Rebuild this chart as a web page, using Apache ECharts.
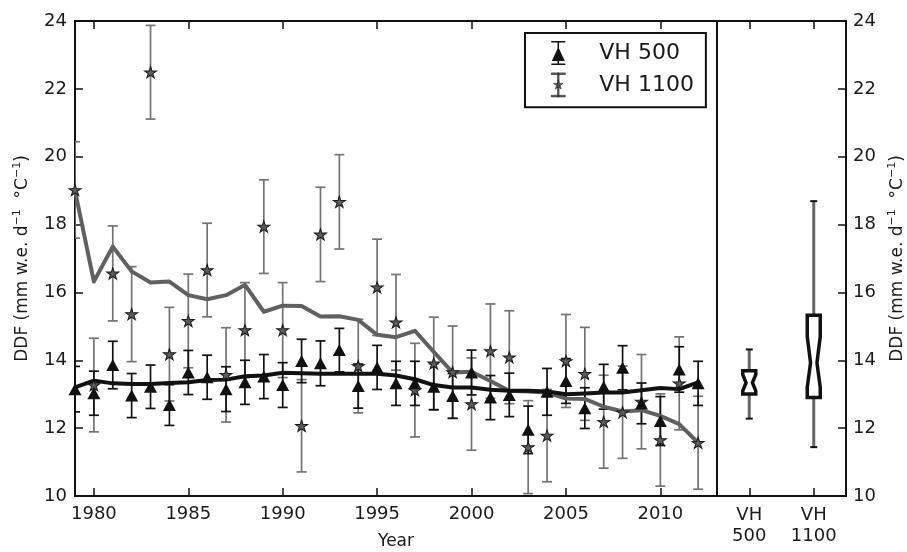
<!DOCTYPE html>
<html><head><meta charset="utf-8">
<script src="https://cdn.jsdelivr.net/npm/echarts@6/dist/echarts.min.js"></script>
<style>html,body{margin:0;padding:0;background:#fff}#c{width:907px;height:552px}</style>
</head><body><div id="c"></div>
<script>
// ---------------- data ----------------
const years = [1979,1980,1981,1982,1983,1984,1985,1986,1987,1988,1989,1990,1991,1992,1993,1994,1995,1996,1997,1998,1999,2000,2001,2002,2003,2004,2005,2006,2007,2008,2009,2010,2011,2012];
const vh500 = [13.15,13.03,13.86,12.96,13.22,12.68,13.64,13.5,13.15,13.35,13.52,13.27,13.98,13.91,14.3,13.24,13.79,13.32,13.32,13.22,12.95,13.64,12.9,12.98,11.95,13.07,13.39,12.59,13.22,13.78,12.73,12.21,13.73,13.32];
const vh500Err = [0.67,0.65,0.7,0.65,0.64,0.6,0.65,0.65,0.66,0.65,0.65,0.66,0.64,0.66,0.64,0.65,0.65,0.65,0.65,0.68,0.66,0.66,0.65,0.64,0.7,0.69,0.66,0.6,0.66,0.65,0.6,0.72,0.67,0.65];
const vh1100 = [19.02,13.27,16.56,15.36,22.49,14.18,15.16,16.66,13.57,14.89,17.94,14.89,12.07,17.71,18.67,13.83,16.15,15.12,13.12,13.91,13.65,12.71,14.27,14.09,11.44,11.78,13.98,13.6,12.19,12.47,12.78,11.65,13.32,11.57];
const vh1100Err = [1.42,1.38,1.4,1.4,1.38,1.38,1.38,1.38,1.39,1.4,1.38,1.4,1.36,1.39,1.39,1.38,1.42,1.41,1.38,1.36,1.36,1.36,1.39,1.37,1.37,1.36,1.37,1.37,1.37,1.36,1.39,1.36,1.37,1.37];
const vh500Smooth = [13.2,13.4,13.32,13.3,13.3,13.33,13.35,13.42,13.43,13.53,13.55,13.63,13.62,13.6,13.6,13.6,13.6,13.55,13.44,13.27,13.2,13.2,13.13,13.1,13.1,13.08,13.0,13.02,13.05,13.05,13.12,13.18,13.15,13.35];
const vh1100Smooth = [19.0,16.32,17.35,16.62,16.29,16.32,15.92,15.8,15.92,16.22,15.43,15.61,15.6,15.29,15.3,15.19,14.75,14.68,14.87,14.25,13.64,13.66,13.39,13.1,13.08,13.05,12.87,12.86,12.63,12.49,12.53,12.36,12.12,11.57];
const xTicks = [1980,1985,1990,1995,2000,2005,2010];
const boxNames = ['VH\n500','VH\n1100'];
const boxPos = [1,2];
const boxLow = [12.28,11.44];
const boxQ1 = [13.01,12.9];
const boxNotchLo = [13.1,13.2];
const boxMedian = [13.34,13.93];
const boxNotchHi = [13.58,14.7];
const boxQ3 = [13.69,15.33];
const boxHigh = [14.32,18.69];
const seriesNames = ['VH 500','VH 1100'];

// ---------------- styles ----------------
const FONT = 'DejaVu Sans';
const TXT = '#1a1a1a';
const GRAY = '#666666';
const ERRGRAY = '#737373';
const STAR = 'path://M7,6L8.35,10.15L12.71,10.15L9.18,12.71L10.53,16.85L7,14.29L3.47,16.85L4.82,12.71L1.29,10.15L5.65,10.15Z';
const ICON500 = 'path://M0,0H14V1.6H0Z M6.25,0H7.75V24H6.25Z M0,22.4H14V24H0Z M7,6L13.5,20H0.5Z';
const ICON1100 = 'path://M0,0H14V1.6H0Z M6.25,0H7.75V24H6.25Z M0,22.4H14V24H0Z M7,7L8.1,10.5L11.8,10.5L8.8,12.6L9.9,16.1L7,14L4.1,16.1L5.2,12.6L2.2,10.5L5.9,10.5Z';

const errData = (vals, errs) => years.map((y, i) => [y, vals[i], errs[i]]);
const lineData = (vals) => years.map((y, i) => [y, vals[i]]);

function errRender(color, capHalf, lw) {
  return function (params, api) {
    const x = api.value(0), v = api.value(1), e = api.value(2);
    const t = api.coord([x, v + e]), b = api.coord([x, v - e]);
    const style = { stroke: color, lineWidth: lw, fill: null };
    return { type: 'group', children: [
      { type: 'line', shape: { x1: t[0], y1: t[1], x2: b[0], y2: b[1] }, style },
      { type: 'line', shape: { x1: t[0] - capHalf, y1: t[1], x2: t[0] + capHalf, y2: t[1] }, style },
      { type: 'line', shape: { x1: b[0] - capHalf, y1: b[1], x2: b[0] + capHalf, y2: b[1] }, style }
    ]};
  };
}

function boxRender(params, api) {
  const x = api.value(0);
  const lo = api.coord([x, api.value(1)]), q1 = api.coord([x, api.value(2)]);
  const nl = api.coord([x, api.value(3)]), md = api.coord([x, api.value(4)]);
  const nh = api.coord([x, api.value(5)]), q3 = api.coord([x, api.value(6)]);
  const hi = api.coord([x, api.value(7)]);
  const cx = lo[0], hw = 6.5, iw = 3.2, cap = 3.5;
  return { type: 'group', children: [
    { type: 'line', shape: { x1: cx, y1: hi[1], x2: cx, y2: lo[1] }, style: { stroke: GRAY, lineWidth: 3 } },
    { type: 'line', shape: { x1: cx - cap, y1: hi[1], x2: cx + cap, y2: hi[1] }, style: { stroke: '#111', lineWidth: 2 } },
    { type: 'line', shape: { x1: cx - cap, y1: lo[1], x2: cx + cap, y2: lo[1] }, style: { stroke: '#111', lineWidth: 2 } },
    { type: 'polygon', shape: { points: [
        [cx - hw, q3[1]], [cx + hw, q3[1]], [cx + hw, nh[1]], [cx + iw, md[1]], [cx + hw, nl[1]],
        [cx + hw, q1[1]], [cx - hw, q1[1]], [cx - hw, nl[1]], [cx - iw, md[1]], [cx - hw, nh[1]] ] },
      style: { fill: '#fff', stroke: '#111', lineWidth: 3.5, lineJoin: 'miter' } }
  ]};
}

const yName = '{n|DDF (mm w.e. d}{s|−1}{n|  °C}{s|−1}{n|)}';
const nameStyle = { color: TXT, fontFamily: FONT, fontSize: 17,
  rich: { n: { fontSize: 17, fontFamily: FONT, color: TXT, lineHeight: 22 },
          s: { fontSize: 11, fontFamily: FONT, color: TXT, lineHeight: 12, verticalAlign: 'top' } } };
const tickStyle = { inside: true, length: 8, lineStyle: { color: '#111', width: 1.5 } };
const axLine = { show: true, lineStyle: { color: '#111', width: 2 } };
const lbl = { color: TXT, fontFamily: FONT, fontSize: 18 };

const option = {
  animation: false,
  backgroundColor: '#fff',
  grid: [
    { left: 75, top: 21, width: 642, height: 475, outerBoundsMode: 'none', containLabel: false,
      show: true, borderColor: '#111', borderWidth: 2, backgroundColor: 'transparent' },
    { left: 717, top: 21, width: 129, height: 475, outerBoundsMode: 'none', containLabel: false,
      show: true, borderColor: '#111', borderWidth: 2, backgroundColor: 'transparent' }
  ],
  xAxis: [
    { type: 'value', gridIndex: 0, min: 1979, max: 2013, position: 'bottom',
      axisLine: axLine, splitLine: { show: false },
      axisTick: Object.assign({ customValues: xTicks }, tickStyle),
      axisLabel: Object.assign({ customValues: xTicks, margin: 9, formatter: v => String(v) }, lbl),
      name: 'Year', nameLocation: 'middle', nameGap: 37,
      nameTextStyle: { color: TXT, fontFamily: FONT, fontSize: 17 } },
    { type: 'value', gridIndex: 0, min: 1979, max: 2013, position: 'top',
      axisLine: { show: false }, splitLine: { show: false },
      axisTick: Object.assign({ customValues: xTicks }, tickStyle),
      axisLabel: { show: false } },
    { type: 'value', gridIndex: 1, min: 0.5, max: 2.5, position: 'bottom',
      axisLine: axLine, splitLine: { show: false },
      axisTick: Object.assign({ customValues: boxPos }, tickStyle),
      axisLabel: Object.assign({ customValues: boxPos, margin: 9, lineHeight: 21,
        formatter: v => boxNames[Math.round(v) - 1] || '' }, lbl) },
    { type: 'value', gridIndex: 1, min: 0.5, max: 2.5, position: 'top',
      axisLine: { show: false }, splitLine: { show: false },
      axisTick: Object.assign({ customValues: boxPos }, tickStyle),
      axisLabel: { show: false } }
  ],
  yAxis: [
    { type: 'value', gridIndex: 0, min: 10, max: 24, interval: 2, position: 'left',
      axisLine: axLine, splitLine: { show: false }, axisTick: tickStyle,
      axisLabel: Object.assign({ margin: 8 }, lbl),
      name: yName, nameLocation: 'middle', nameGap: 41, nameRotate: 90, nameTextStyle: nameStyle },
    { type: 'value', gridIndex: 1, min: 10, max: 24, interval: 2, position: 'right',
      axisLine: axLine, splitLine: { show: false }, axisTick: tickStyle,
      axisLabel: Object.assign({ margin: 7 }, lbl),
      name: yName, nameLocation: 'middle', nameGap: 41, nameRotate: 90, nameTextStyle: nameStyle }
  ],
  legend: {
    orient: 'vertical', left: 525, top: 33,
    padding: [8, 12, 10, 26], itemGap: 7.6, itemWidth: 50, itemHeight: 24,
    borderColor: '#111', borderWidth: 2, borderRadius: 0, backgroundColor: '#fff',
    formatter: '{t|{name}}',
    textStyle: { fontSize: 22, color: TXT, fontFamily: FONT,
      rich: { t: { fontSize: 22, color: TXT, fontFamily: FONT, padding: [0, 0, 0, 11] } } },
    selectedMode: false,
    data: [
      { name: seriesNames[0], icon: ICON500, itemStyle: { color: '#111' } },
      { name: seriesNames[1], icon: ICON1100, itemStyle: { color: GRAY, borderColor: '#222', borderWidth: 0.6 } }
    ]
  },
  series: [
    { type: 'custom', name: 'err1100', xAxisIndex: 0, yAxisIndex: 0, clip: true, z: 1,
      renderItem: errRender(ERRGRAY, 5, 1.7), encode: { x: 0, y: 1 }, data: errData(vh1100, vh1100Err) },
    { type: 'custom', name: 'err500', xAxisIndex: 0, yAxisIndex: 0, clip: true, z: 1,
      renderItem: errRender('#111', 5, 1.7), encode: { x: 0, y: 1 }, data: errData(vh500, vh500Err) },
    { type: 'line', name: 'smooth1100', xAxisIndex: 0, yAxisIndex: 0, z: 2, clip: true,
      showSymbol: false, symbol: 'none', lineStyle: { color: '#606060', width: 4, join: 'round' },
      data: lineData(vh1100Smooth) },
    { type: 'line', name: 'smooth500', xAxisIndex: 0, yAxisIndex: 0, z: 2, clip: true,
      showSymbol: false, symbol: 'none', lineStyle: { color: '#111', width: 4, join: 'round' },
      data: lineData(vh500Smooth) },
    { type: 'scatter', name: seriesNames[1], xAxisIndex: 0, yAxisIndex: 0, z: 3,
      symbol: STAR, symbolSize: [12, 11.3],
      itemStyle: { color: '#5c5c5c', borderColor: '#1a1a1a', borderWidth: 1, opacity: 1 },
      data: lineData(vh1100) },
    { type: 'scatter', name: seriesNames[0], xAxisIndex: 0, yAxisIndex: 0, z: 4,
      symbol: 'triangle', symbolSize: [13, 12],
      itemStyle: { color: '#111', opacity: 1 },
      data: lineData(vh500) },
    { type: 'custom', name: 'box', xAxisIndex: 2, yAxisIndex: 1, z: 3,
      renderItem: boxRender, encode: { x: 0, y: [1, 7] },
      data: boxPos.map((p, i) => [p, boxLow[i], boxQ1[i], boxNotchLo[i], boxMedian[i], boxNotchHi[i], boxQ3[i], boxHigh[i]]) }
  ]
};

const chart = echarts.init(document.getElementById('c'), null, { renderer: 'canvas' });
chart.setOption(option);
</script>
</body></html>
